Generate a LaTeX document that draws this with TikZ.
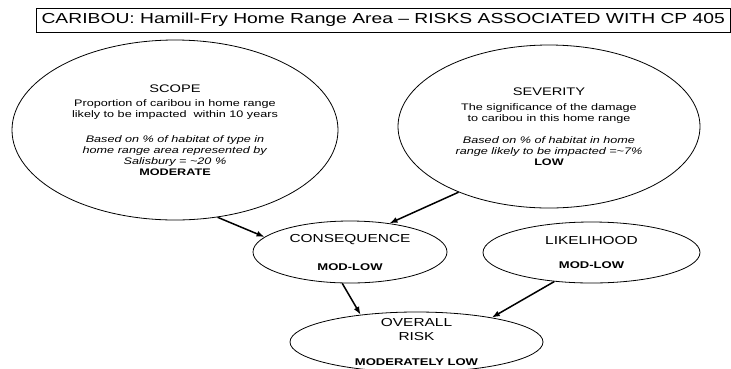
\documentclass[tikz,border=0pt]{standalone}
\usepackage{fontspec}
\setmainfont{Liberation Sans}[FakeStretch=1.33]
\usetikzlibrary{arrows.meta,shapes.geometric}

\begin{document}
\begin{tikzpicture}[x=1pt,y=-1pt]
      \useasboundingbox (0,0) rectangle (731,368);

      \tikzstyle{bubble}=[ellipse,draw,line width=0.8pt,inner sep=0pt,
        align=center,font=\fontsize{9.5}{11}\selectfont]
      \tikzstyle{small}=[bubble,font=\fontsize{9.8}{11}\selectfont]

      \node[draw,line width=0.8pt,minimum width=694.5pt,minimum height=24pt,
        inner sep=0pt,font=\fontsize{14.5}{16}\selectfont] (T) at (383.25,20)
      {CARIBOU: Hamill-Fry Home Range Area -- RISKS ASSOCIATED WITH CP 405};

      \node[bubble,minimum width=326pt,minimum height=180pt] (S) at (175,130)
      {{\fontsize{11}{11}\selectfont SCOPE}\\[3pt]
        Proportion of caribou in home range\\
        likely to be impacted \ within 10 years\\[14pt]
        \textit{Based on \% of habitat of type in}\\
        \textit{home range area represented by}\\
        \textit{Salisbury = \textasciitilde20 \%}\\
        \textbf{MODERATE}};

      \node[bubble,minimum width=302pt,minimum height=163pt] (V) at (549,126.5)
      {{\fontsize{11}{11}\selectfont SEVERITY}\\[4pt]
        The significance of the damage\\
        to caribou in this home range\\[11pt]
        \textit{Based on \% of habitat in home}\\
        \textit{range likely to be impacted =\textasciitilde7\%}\\
        \textbf{LOW}};

      \node[small,minimum width=194pt,minimum height=62pt] (C) at (350,252)
      {{\fontsize{11.6}{13}\selectfont CONSEQUENCE}\\[17pt]\textbf{MOD-LOW}};

      \node[small,minimum width=217pt,minimum height=61pt] (L) at (591.5,252.5)
      {{\fontsize{11.6}{13}\selectfont LIKELIHOOD}\\[13pt]\textbf{MOD-LOW}};

      \node[small,minimum width=253pt,minimum height=60pt,inner ysep=-5pt]
      (R) at (416.5,342)
      {{\fontsize{11.6}{13}\selectfont OVERALL}\\[3pt]
        {\fontsize{11.6}{13}\selectfont RISK}\\[14pt]
        \textbf{MODERATELY LOW}};

      \tikzstyle{link}=[-{Latex[length=8pt,width=6pt]},line width=1.5pt]

      \draw[link] (S.-64) -- (C.170);
      \draw[link] (V.216) -- (C.36);
      \draw[link] (C.-104) -- (R.154);
      \draw[link] (L.-142) -- (R.18);
    \end{tikzpicture}
\end{document}
